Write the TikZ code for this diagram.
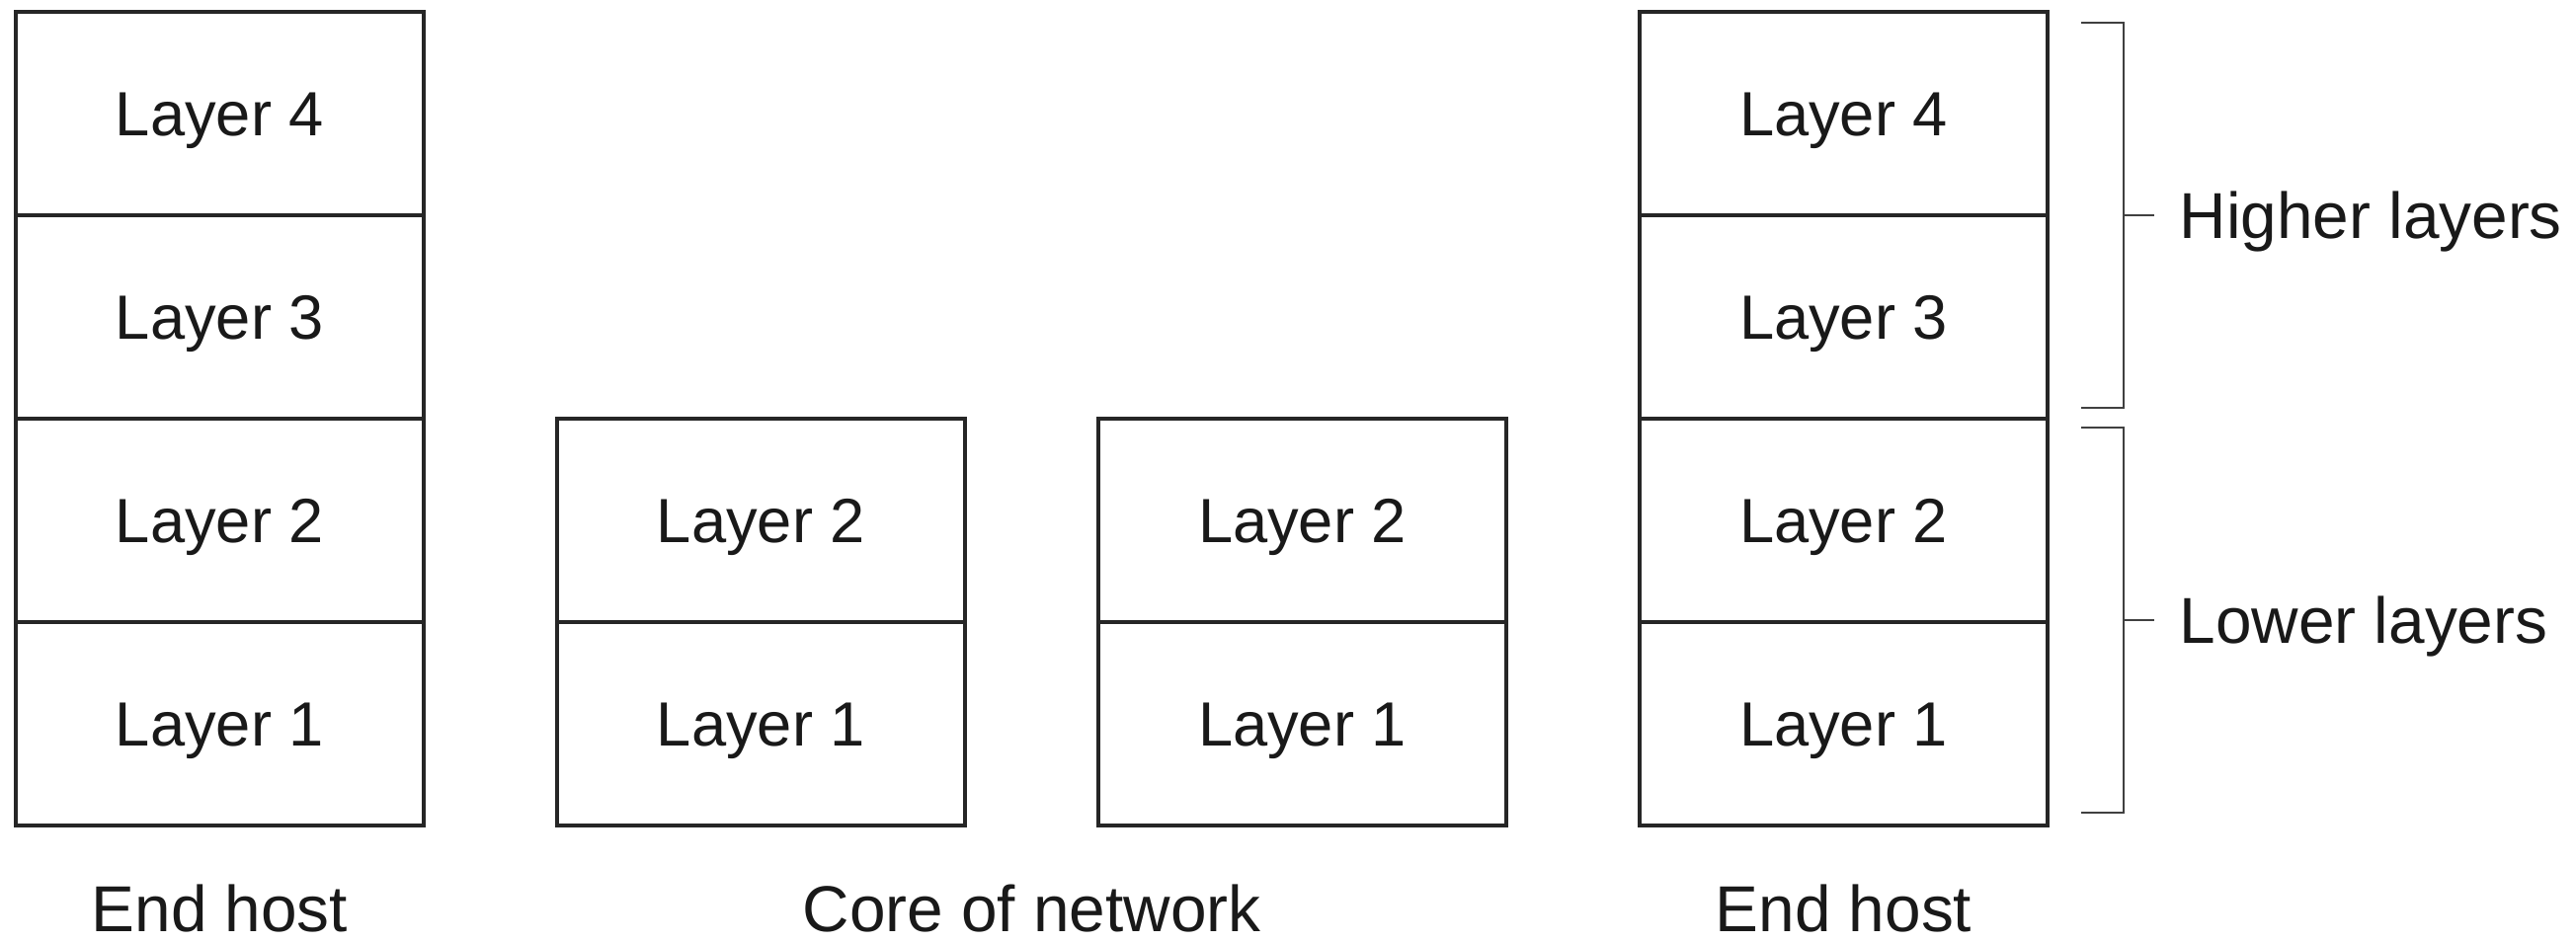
\documentclass[tikz,border=0pt]{standalone}
\usepackage{fontspec}
\setmainfont{Liberation Sans}
\usetikzlibrary{positioning}

\begin{document}
\begin{tikzpicture}[
  couche/.style={draw=black!85, line width=1.1pt, minimum width=4.13cm, minimum height=2.06cm,
    inner sep=0pt, outer sep=0pt, font=\fontsize{18}{22}\selectfont,
    text height=12.9pt, text depth=0pt, text=black!90},
  legende/.style={inner sep=0pt, font=\fontsize{18.7}{22}\selectfont,
    text height=13.4pt, text depth=0pt, text=black!90},
  accolade/.style={draw=black!75, line width=0.75pt}
]
\useasboundingbox (0,0) rectangle (26.08,9.55);
%hote gauche
\node[couche] (g4) at (2.225,8.40) {Layer 4};
\node[couche, below=0cm of g4] (g3) {Layer 3};
\node[couche, below=0cm of g3] (g2) {Layer 2};
\node[couche, below=0cm of g2] (g1) {Layer 1};
%coeur du reseau
\node[couche, right=1.35cm of g2] (c2) {Layer 2};
\node[couche, below=0cm of c2] (c1) {Layer 1};
\node[couche, right=1.35cm of c2] (k2) {Layer 2};
\node[couche, below=0cm of k2] (k1) {Layer 1};
%hote droit
\node[couche, right=1.35cm of k2] (d2) {Layer 2};
\node[couche, above=0cm of d2] (d3) {Layer 3};
\node[couche, above=0cm of d3] (d4) {Layer 4};
\node[couche, below=0cm of d2] (d1) {Layer 1};
%legendes du bas
\node[legende, below=0.6cm of g1] (gL) {End host};
\path (c1.south) -- (k1.south) coordinate[midway] (cm);
\node[legende, below=0.6cm of cm] (cL) {Core of network};
\node[legende, below=0.6cm of d1] (dL) {End host};
%accolades
\coordinate[xshift=0.77cm] (hM) at (d4.south east);
\draw[accolade] ([xshift=-0.43cm, yshift=1.95cm]hM) -- ([yshift=1.95cm]hM)
  -- ([yshift=-1.95cm]hM) -- ([xshift=-0.43cm, yshift=-1.95cm]hM);
\draw[accolade] (hM) -- ++(0.31,0) coordinate (hT);
\node[legende, right=0.25cm of hT] (hL) {Higher layers};
\coordinate[xshift=0.77cm, yshift=0.02cm] (bM) at (d2.south east);
\draw[accolade] ([xshift=-0.43cm, yshift=1.95cm]bM) -- ([yshift=1.95cm]bM)
  -- ([yshift=-1.95cm]bM) -- ([xshift=-0.43cm, yshift=-1.95cm]bM);
\draw[accolade] (bM) -- ++(0.31,0) coordinate (bT);
\node[legende, right=0.25cm of bT] (bL) {Lower layers};
\end{tikzpicture}
\end{document}
